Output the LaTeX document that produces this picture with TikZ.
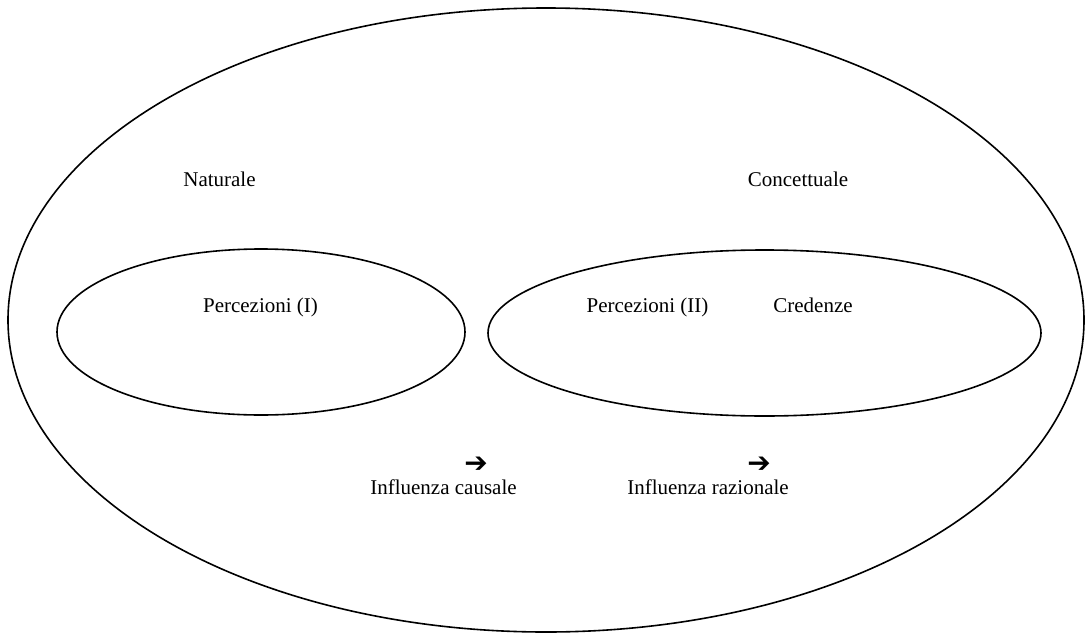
\documentclass[tikz,border=0pt]{standalone}
\usepackage{fontspec}
\setmainfont{Liberation Serif}
\newfontfamily\symfont{DejaVu Sans}
\begin{document}
\begin{tikzpicture}[x=1pt,y=-1pt,
  ring/.style={draw=black, line width=1.6pt},
  lbl/.style={font=\fontsize{21}{24}\selectfont, inner sep=0pt, anchor=base},
  arr/.style={font=\symfont\bfseries\fontsize{28}{30}\selectfont, inner sep=0pt}]
\useasboundingbox (0,0) rectangle (1086,634);
\draw[ring] (546,320) ellipse [x radius=538, y radius=312];
\draw[ring] (261,332) ellipse [x radius=204, y radius=83];
\draw[ring] (764.5,333) ellipse [x radius=276.5, y radius=83];
\node[lbl] (nat) at (219.5,186) {Naturale};
\node[lbl] (con) at (798,186) {Concettuale};
\node[lbl] (p1) at (260.5,312) {Percezioni (I)};
\node[lbl] (p2) at (647.5,312) {Percezioni (II)};
\node[lbl] (cr) at (813,312) {Credenze};
\node[arr] (a1) at (476,465) {➔};
\node[arr] (a2) at (759,465) {➔};
\node[lbl] (ic) at (443.5,494) {Influenza causale};
\node[lbl] (ir) at (708,494) {Influenza razionale};
\end{tikzpicture}
\end{document}
